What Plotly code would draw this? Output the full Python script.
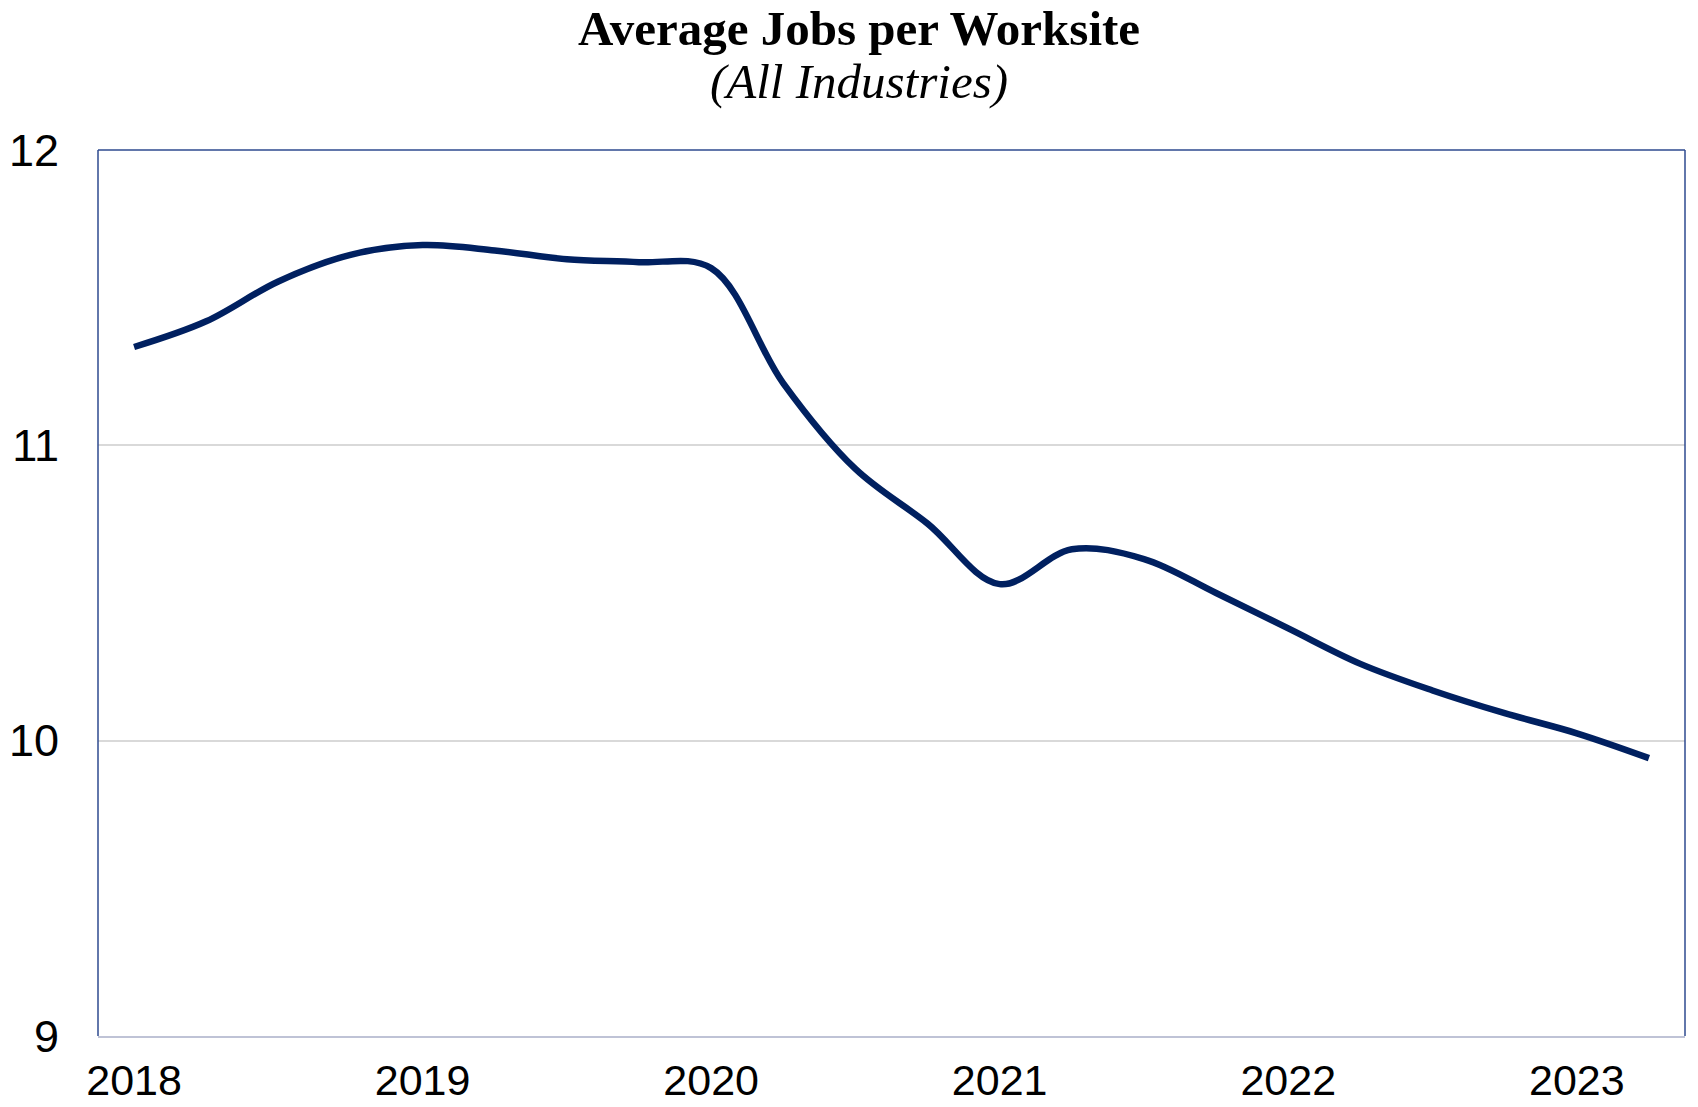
import plotly.graph_objects as go

quarters = ["2018 Q1", "2018 Q2", "2018 Q3", "2018 Q4",
            "2019 Q1", "2019 Q2", "2019 Q3", "2019 Q4",
            "2020 Q1", "2020 Q2", "2020 Q3", "2020 Q4",
            "2021 Q1", "2021 Q2", "2021 Q3", "2021 Q4",
            "2022 Q1", "2022 Q2", "2022 Q3", "2022 Q4",
            "2023 Q1", "2023 Q2"]
avg_jobs = [11.333, 11.42, 11.555, 11.645, 11.678, 11.66, 11.63, 11.62,
            11.60, 11.21, 10.92, 10.735, 10.53, 10.648, 10.615, 10.50,
            10.38, 10.26, 10.17, 10.093, 10.025, 9.941]
year_ticks = ["2018 Q1", "2019 Q1", "2020 Q1", "2021 Q1", "2022 Q1", "2023 Q1"]
year_labels = ["2018", "2019", "2020", "2021", "2022", "2023"]
y_ticks = [9, 10, 11, 12]

title_text = "Average Jobs per Worksite"
subtitle_text = "(All Industries)"

NAVY = "#002060"
BORDER = "#2E4A8F"
x_tick_font = dict(family="Liberation Sans, Arial", size=43, color="#000000")
y_tick_font = dict(family="Liberation Sans, Arial", size=45, color="#000000")
title_font_family = "Liberation Serif, Times New Roman, serif"

fig = go.Figure()
fig.add_trace(go.Scatter(
    x=quarters, y=avg_jobs, mode="lines",
    line=dict(color=NAVY, width=6.5, shape="spline", smoothing=1),
    hoverinfo="x+y", showlegend=False,
))

W, H = 1698, 1107
ml, mr, mt, mb = 97.5, 13, 149.5, 70.5
pw = W - ml - mr
ph = H - mt - mb

def px_x(x):
    return (x - ml) / pw

def px_y(y):
    return (H - mb - y) / ph

fig.update_layout(
    width=W, height=H,
    margin=dict(l=ml, r=mr, t=mt, b=mb, pad=0, autoexpand=False),
    paper_bgcolor="white", plot_bgcolor="white",
    xaxis=dict(
        type="category", categoryorder="array", categoryarray=quarters,
        range=[-0.5, len(quarters) - 0.5], automargin=False,
        tickvals=year_ticks, ticktext=year_labels,
        showgrid=False, zeroline=False,
        showline=True, linecolor="#BFC3D6", linewidth=2,
        ticks="", tickfont=x_tick_font, ticklabelstandoff=5,
    ),
    yaxis=dict(
        range=[9, 12], tickvals=y_ticks, ticktext=[str(v) for v in y_ticks],
        automargin=False,
        showgrid=True, gridcolor="#D9D9D9", gridwidth=1.5,
        zeroline=False, showline=False,
        ticks="", tickfont=y_tick_font, ticklabelstandoff=38,
    ),
    shapes=[
        dict(type="line", xref="paper", yref="paper", x0=0, x1=0, y0=0, y1=1,
             line=dict(color=BORDER, width=1.5)),
        dict(type="line", xref="paper", yref="paper", x0=1, x1=1, y0=0, y1=1,
             line=dict(color=BORDER, width=1.5)),
        dict(type="line", xref="paper", yref="paper", x0=0, x1=1, y0=1, y1=1,
             line=dict(color=BORDER, width=1.5)),
    ],
    annotations=[
        dict(text="<b>" + title_text + "</b>", xref="paper", yref="paper",
             x=px_x(859), y=px_y(28), xanchor="center", yanchor="middle",
             showarrow=False,
             font=dict(family=title_font_family, size=49, color="#000000")),
        dict(text="<i>" + subtitle_text + "</i>", xref="paper", yref="paper",
             x=px_x(859), y=px_y(81), xanchor="center", yanchor="middle",
             showarrow=False,
             font=dict(family=title_font_family, size=49, color="#000000")),
    ],
)

fig.write_html("out.html")
